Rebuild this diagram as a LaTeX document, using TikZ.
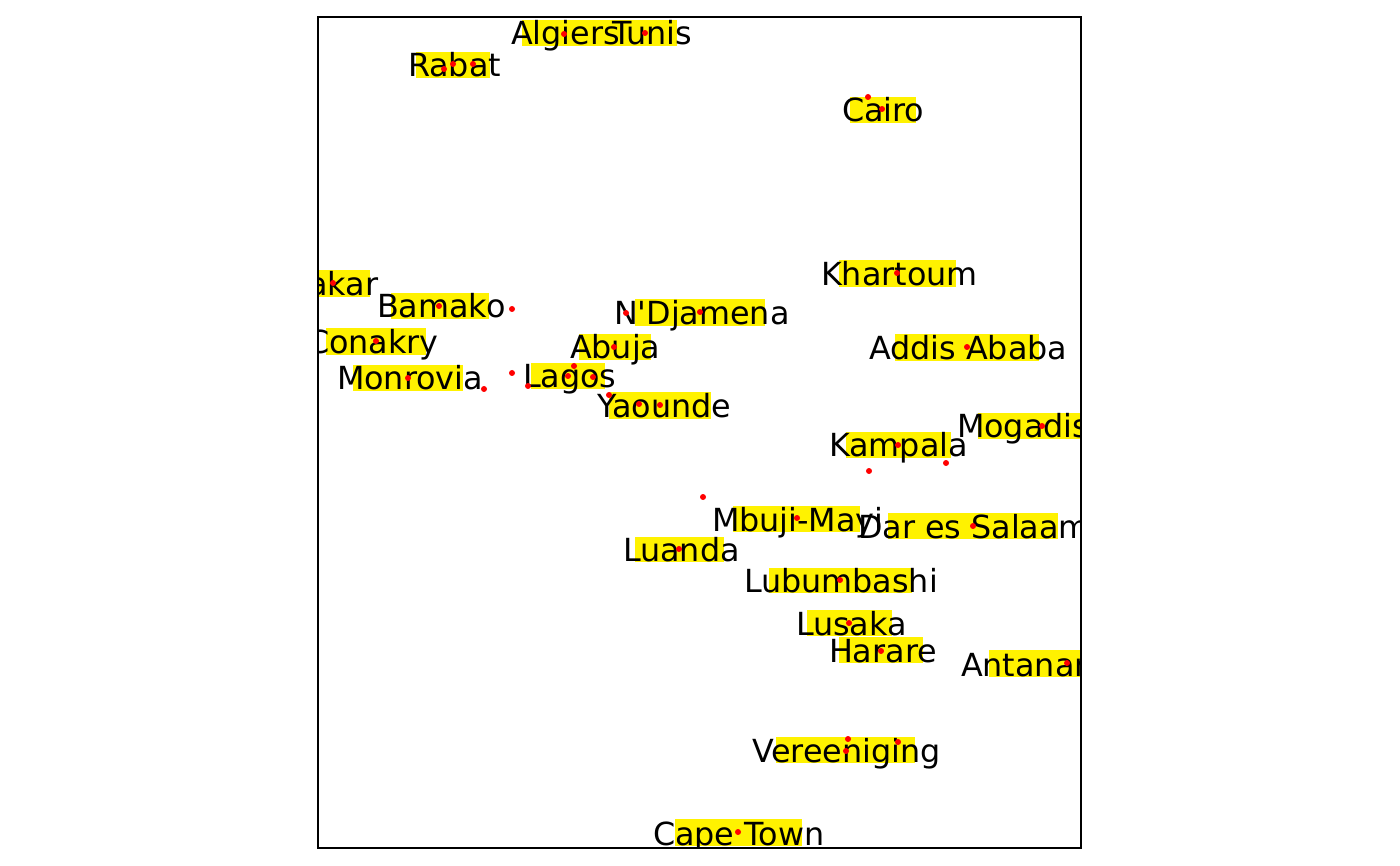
\documentclass[tikz,border=0pt]{standalone}
\usepackage{fontspec}
\newfontfamily\cityfont{DejaVu Sans}

\begin{document}
\begin{tikzpicture}[x=0.1mm,y=-0.1mm,
   city/.style={anchor=base west,inner sep=0pt,outer sep=0pt,
                font=\cityfont\fontsize{9.05}{10}\selectfont},
   hl/.style={fill=yellow},
   spot/.style={fill=red}]
   \path[use as bounding box] (0,0) rectangle(1400,866);
   \begin{scope}
    \clip (318,17) rectangle(1081,848);
    % highlight boxes
    \fill[hl] (522, 20) rectangle( 612, 46);
    \fill[hl] (612, 20) rectangle( 677, 46);
    \fill[hl] (416, 52) rectangle( 490, 78);
    \fill[hl] (850, 97) rectangle( 916,123);
    \fill[hl] (839,260) rectangle( 956,287);
    \fill[hl] (300,270) rectangle( 370,297);
    \fill[hl] (391,293) rectangle( 489,319);
    \fill[hl] (635,299) rectangle( 765,326);
    \fill[hl] (326,328) rectangle( 426,355);
    \fill[hl] (579,334) rectangle( 651,360);
    \fill[hl] (895,334) rectangle(1039,361);
    \fill[hl] (353,365) rectangle( 463,391);
    \fill[hl] (531,363) rectangle( 605,389);
    \fill[hl] (609,392) rectangle( 711,419);
    \fill[hl] (978,413) rectangle(1100,439);
    \fill[hl] (846,432) rectangle( 951,458);
    \fill[hl] (733,506) rectangle( 860,532);
    \fill[hl] (888,513) rectangle(1058,539);
    \fill[hl] (635,537) rectangle( 724,562);
    \fill[hl] (769,568) rectangle( 912,593);
    \fill[hl] (807,610) rectangle( 892,636);
    \fill[hl] (839,637) rectangle( 923,663);
    \fill[hl] (989,650) rectangle(1120,677);
    \fill[hl] (776,737) rectangle( 915,763);
    \fill[hl] (675,819) rectangle( 802,846);
    % city names
    \node[city] (algiers)    at (511, 45) {Algiers};
    \node[city] (tunis)      at (612, 45) {Tunis};
    \node[city] (rabat)      at (408, 77) {Rabat};
    \node[city] (cairo)      at (842,122) {Cairo};
    \node[city] (khartoum)   at (821,286) {Khartoum};
    \node[city] (dakar)      at (284,296) {Dakar};
    \node[city] (bamako)     at (377,318) {Bamako};
    \node[city] (ndjamena)   at (614,325) {N'Djamena};
    \node[city] (conakry)    at (307,354) {Conakry};
    \node[city] (abuja)      at (570,359) {Abuja};
    \node[city] (addis)      at (869,360) {Addis Ababa};
    \node[city] (monrovia)   at (337,390) {Monrovia};
    \node[city] (lagos)      at (523,388) {Lagos};
    \node[city] (yaounde)    at (597,418) {Yaounde};
    \node[city] (mogadishu)  at (957,438) {Mogadishu};
    \node[city] (kampala)    at (829,457) {Kampala};
    \node[city] (mbujimayi)  at (712,531) {Mbuji-Mayi};
    \node[city] (daressalaam) at (858,538) {Dar es Salaam};
    \node[city] (luanda)     at (623,561) {Luanda};
    \node[city] (lubumbashi) at (744,592) {Lubumbashi};
    \node[city] (lusaka)     at (796,635) {Lusaka};
    \node[city] (harare)     at (829,662) {Harare};
    \node[city] (antananarivo) at (961,676) {Antananarivo};
    \node[city] (vereeniging) at (752,762) {Vereeniging};
    \node[city] (capetown)   at (653,845) {Cape Town};
    % points
    \fill[spot] ( 564, 34) circle[radius=0.3mm];
    \fill[spot] ( 645, 33) circle[radius=0.3mm];
    \fill[spot] ( 444, 69) circle[radius=0.3mm];
    \fill[spot] ( 453, 64) circle[radius=0.3mm];
    \fill[spot] ( 473, 64) circle[radius=0.3mm];
    \fill[spot] ( 868, 97) circle[radius=0.3mm];
    \fill[spot] ( 882,109) circle[radius=0.3mm];
    \fill[spot] ( 897,273) circle[radius=0.3mm];
    \fill[spot] ( 333,283) circle[radius=0.3mm];
    \fill[spot] ( 439,306) circle[radius=0.3mm];
    \fill[spot] ( 512,309) circle[radius=0.3mm];
    \fill[spot] ( 626,313) circle[radius=0.3mm];
    \fill[spot] ( 700,312) circle[radius=0.3mm];
    \fill[spot] ( 376,341) circle[radius=0.3mm];
    \fill[spot] ( 614,347) circle[radius=0.3mm];
    \fill[spot] ( 967,347) circle[radius=0.3mm];
    \fill[spot] ( 408,378) circle[radius=0.3mm];
    \fill[spot] ( 484,389) circle[radius=0.3mm];
    \fill[spot] ( 512,373) circle[radius=0.3mm];
    \fill[spot] ( 528,386) circle[radius=0.3mm];
    \fill[spot] ( 574,366) circle[radius=0.3mm];
    \fill[spot] ( 568,376) circle[radius=0.3mm];
    \fill[spot] ( 593,377) circle[radius=0.3mm];
    \fill[spot] ( 609,395) circle[radius=0.3mm];
    \fill[spot] ( 639,404) circle[radius=0.3mm];
    \fill[spot] ( 660,405) circle[radius=0.3mm];
    \fill[spot] (1042,426) circle[radius=0.3mm];
    \fill[spot] ( 898,445) circle[radius=0.3mm];
    \fill[spot] ( 869,471) circle[radius=0.3mm];
    \fill[spot] ( 946,463) circle[radius=0.3mm];
    \fill[spot] ( 703,497) circle[radius=0.3mm];
    \fill[spot] ( 797,518) circle[radius=0.3mm];
    \fill[spot] ( 973,526) circle[radius=0.3mm];
    \fill[spot] ( 679,549) circle[radius=0.3mm];
    \fill[spot] ( 840,580) circle[radius=0.3mm];
    \fill[spot] ( 849,623) circle[radius=0.3mm];
    \fill[spot] ( 881,651) circle[radius=0.3mm];
    \fill[spot] (1067,663) circle[radius=0.3mm];
    \fill[spot] ( 848,739) circle[radius=0.3mm];
    \fill[spot] ( 846,751) circle[radius=0.3mm];
    \fill[spot] ( 898,742) circle[radius=0.3mm];
    \fill[spot] ( 738,832) circle[radius=0.3mm];
   \end{scope}
   \draw[line width=0.45pt] (318,17) rectangle(1081,848);
\end{tikzpicture}
\end{document}
